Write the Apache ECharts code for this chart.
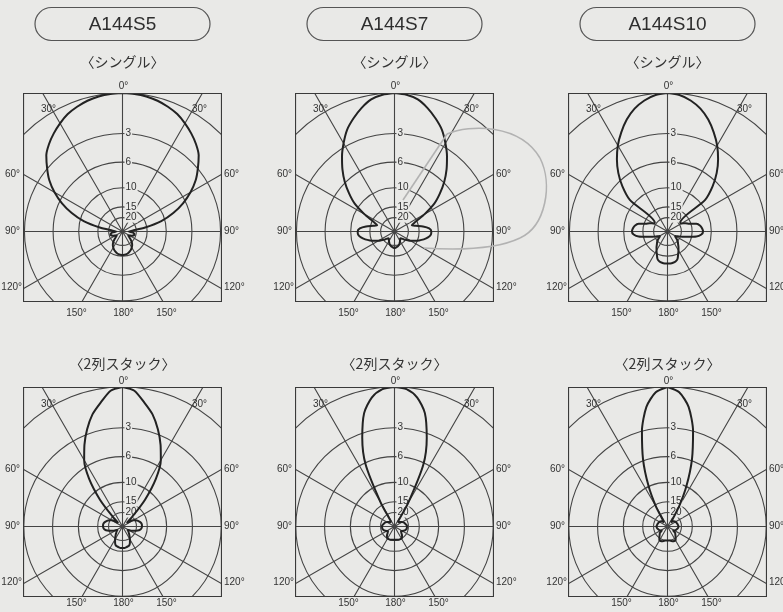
<!DOCTYPE html>
<html><head><meta charset="utf-8">
<script src="https://cdn.jsdelivr.net/npm/echarts@6/dist/echarts.min.js"></script>
<style>
html,body{margin:0;padding:0;background:#e9e9e7;width:783px;height:612px;overflow:hidden;}
.box{position:absolute;}
#overlay{position:absolute;left:0;top:0;width:783px;height:612px;z-index:5;}
</style></head><body>
<div id="b0" class="box"></div><div id="b1" class="box"></div><div id="b2" class="box"></div>
<div id="b3" class="box"></div><div id="b4" class="box"></div><div id="b5" class="box"></div>
<div id="overlay"></div>
<script>
// ---- data ----
const models = ['A144S5', 'A144S7', 'A144S10'];
const rowTitles = ['〈シングル〉', '〈2列スタック〉'];
const dbTicks = [0, 3, 6, 10, 15, 20];
const angleLabels = ['0°', '30°', '60°', '90°', '120°', '150°', '180°'];
// pattern angles (deg, 0 = forward), mirrored for the other side
const angles = [0,5,10,15,20,25,30,35,40,45,50,55,60,65,70,75,80,85,90,95,100,105,110,115,120,125,130,135,140,145,150,155,160,165,170,175,180];
// relative level (dB below peak) at each angle
const s5Single  = [0,0.03,0.09,0.2,0.37,0.58,0.9,1.26,1.67,2.18,2.97,3.81,4.93,6.34,8.18,10.75,15.6,23,27,23,21.5,21,21.5,23,25,26,24,21.5,19.5,18.3,17.5,16.8,16.3,15.9,15.6,15.5,15.4];
const s7Single  = [0,0.08,0.28,0.7,1.23,1.83,2.67,3.6,4.66,5.88,7.37,9.1,12,15.4,17.5,16,13.6,12,11.5,11.6,12.2,13.2,14.5,16,17.5,19.5,21,23,24,23,22,21,20,19.5,19,18.7,18.5];
const s10Single = [0,0.09,0.35,0.74,1.31,2.05,2.89,3.92,5.15,6.74,9.0,19,18.7,17,15.6,13.3,12.4,12,11.8,12.2,13.5,16.5,19,22,24,23,21,19.5,18.5,17.2,16,14.8,13.5,13,12.8,12.7,12.7];
const s5Stack   = [0,0.2,0.9,1.6,2.6,3.8,5.2,7.6,12,20,28,24,21,19.5,18.5,17.8,17.3,17.1,17.1,17.3,17.8,19,21,23,26,27,25,24,22.5,21,19.5,18,16.9,16.6,16.4,16.2,16.2];
const s7Stack   = [0,0.1,0.55,1.5,3.4,6.2,14,26,28,27,26,25,24,23,22.5,22,21.5,21,21,21,21,21.5,22,23,24,25,24,23,21.5,20.5,20,20,20,20.1,20.3,20.4,20.5];
const s10Stack  = [0,0.3,1.2,3.0,5.8,9.8,15.5,24,28,26,24.5,24,23.5,23.2,23,22.7,22.5,22.2,22,22.2,22.5,23,23.5,24,25,26,23,22,21,19.8,18.8,18.8,19,19.4,19.8,20,20];

const patterns = [s5Single, s7Single, s10Single, s5Stack, s7Stack, s10Stack];

// ---- layout ----
const colCx = [122.5, 394.5, 667.5];
const boxW = 199;
const rowTop = [93, 387];
const rowH = [209, 210];
const rowR = [138.5, 139.5];
const bottomLblOff = [82, 77];
const FONT = '"Liberation Sans", Arial, sans-serif';
const INK = '#222';
const GRID = '#444';
const BG = '#e9e9e7';

const amp = db => Math.pow(10, -db / 20);
function fullPattern(half) {
  const pts = half.map((db, i) => [amp(db), angles[i]]);
  for (let i = angles.length - 2; i >= 0; i--) pts.push([amp(half[i]), 360 - angles[i]]);
  return pts;
}

for (let k = 0; k < 6; k++) {
  const col = k % 3, row = Math.floor(k / 3);
  const el = document.getElementById('b' + k);
  const left = colCx[col] - boxW / 2;
  el.style.left = left + 'px';
  el.style.top = rowTop[row] + 'px';
  el.style.width = boxW + 'px';
  el.style.height = rowH[row] + 'px';
  const R = rowR[row];
  const chart = echarts.init(el, null, {renderer: 'canvas'});
  chart.setOption({
    animation: false,
    polar: {center: [boxW / 2, R], radius: 1.3 * R},
    angleAxis: {
      type: 'value', min: 0, max: 360, interval: 30, startAngle: 90, clockwise: true,
      axisLine: {show: false}, axisTick: {show: false}, axisLabel: {show: false},
      splitLine: {show: true, lineStyle: {color: GRID, width: 1.1}}
    },
    radiusAxis: {
      type: 'value', min: 0, max: 1.3,
      axisLine: {show: false},
      axisTick: {show: false, customValues: dbTicks.map(amp)},
      axisLabel: {
        show: true, customValues: dbTicks.map(amp), margin: -2, align: 'left', verticalAlign: 'middle',
        fontSize: 10, fontFamily: FONT, color: '#333', backgroundColor: BG, padding: [0, 1],
        formatter: v => { const d = Math.round(-20 * Math.log10(v)); return d === 0 ? '' : String(d); }
      },
      splitLine: {show: true, lineStyle: {color: GRID, width: 1.1}}
    },
    series: [{
      type: 'line', coordinateSystem: 'polar', data: fullPattern(patterns[k]),
      showSymbol: false, smooth: 0.25, z: 5,
      lineStyle: {color: INK, width: 2}
    }],
    graphic: [{
      type: 'rect', z: 100, silent: true,
      shape: {x: 0.5, y: 0.5, width: boxW - 1, height: rowH[row] - 1},
      style: {fill: null, stroke: '#3a3a3a', lineWidth: 1.2}
    }]
  });
}

// ---- overlay texts ----
const g = [];
function txt(text, x, y, size, align) {
  g.push({type: 'text', x, y, silent: true, style: {text, font: size + 'px ' + FONT, fill: '#333', align: align || 'center', verticalAlign: 'middle'}});
}
for (let col = 0; col < 3; col++) {
  const cx = colCx[col];
  g.push({type: 'rect', silent: true, shape: {x: cx - 87.5, y: 7.5, width: 175, height: 33, r: 16.5}, style: {fill: null, stroke: '#555', lineWidth: 1.2}});
  g.push({type: 'text', silent: true, x: cx, y: 25, style: {text: models[col], font: '19px ' + FONT, fill: '#2e2e2e', align: 'center', verticalAlign: 'middle'}});
  for (let row = 0; row < 2; row++) {
    const cy = rowTop[row] + rowR[row];
    const bl = cx - boxW / 2, br = cx + boxW / 2;
    g.push({type: 'text', silent: true, x: cx, y: row === 0 ? 62 : 364, style: {text: rowTitles[row], font: '14px "Noto Sans CJK JP"', fill: '#333', align: 'center', verticalAlign: 'middle'}});
    txt(angleLabels[0], cx + 1, cy - 145.5, 10);
    txt(angleLabels[1], cx - 74, cy - 122, 10);
    txt(angleLabels[1], cx + 77, cy - 122, 10);
    txt(angleLabels[2], bl - 3, cy - 57, 10, 'right');
    txt(angleLabels[2], br + 2, cy - 57, 10, 'left');
    txt(angleLabels[3], bl - 3, cy, 10, 'right');
    txt(angleLabels[3], br + 2, cy, 10, 'left');
    txt(angleLabels[4], bl - 1, cy + 56, 10, 'right');
    txt(angleLabels[4], br + 2, cy + 56, 10, 'left');
    txt(angleLabels[5], cx - 46, cy + bottomLblOff[row], 10);
    txt(angleLabels[6], cx + 1, cy + bottomLblOff[row], 10);
    txt(angleLabels[5], cx + 44, cy + bottomLblOff[row], 10);
  }
}
// pencil annotation on the scan
const pencil = {fill: null, stroke: '#b2b2b2', lineWidth: 1.6};
g.push({type: 'line', silent: true, shape: {x1: 403, y1: 200, x2: 447, y2: 134}, style: pencil});
g.push({type: 'bezierCurve', silent: true, shape: {x1: 447, y1: 134, cpx1: 470, cpy1: 124, cpx2: 520, cpy2: 124, x2: 540, y2: 158}, style: pencil});
g.push({type: 'bezierCurve', silent: true, shape: {x1: 540, y1: 158, cpx1: 553, cpy1: 184, cpx2: 546, cpy2: 226, x2: 520, y2: 238}, style: pencil});
g.push({type: 'bezierCurve', silent: true, shape: {x1: 520, y1: 238, cpx1: 495, cpy1: 250, cpx2: 455, cpy2: 250, x2: 424, y2: 248}, style: pencil});
const ov = echarts.init(document.getElementById('overlay'));
ov.setOption({animation: false, graphic: g});
</script>
</body></html>
